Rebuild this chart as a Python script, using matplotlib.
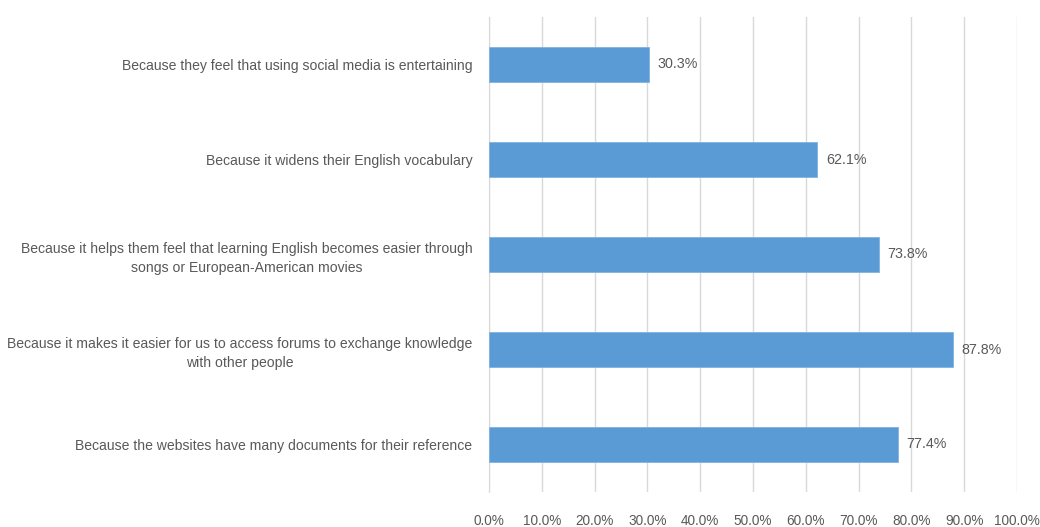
import matplotlib.pyplot as plt
from matplotlib.ticker import FuncFormatter

# data, top to bottom
labels = [
    "Because they feel that using social media is entertaining",
    "Because it widens their English vocabulary",
    "Because it helps them feel that learning English becomes easier through\nsongs or European-American movies",
    "Because it makes it easier for us to access forums to exchange knowledge\nwith other people",
    "Because the websites have many documents for their reference",
]
values = [30.3, 62.1, 73.8, 87.8, 77.4]
xticks = [0, 10, 20, 30, 40, 50, 60, 70, 80, 90, 100]

plt.rcParams['font.family'] = ['Liberation Sans', 'DejaVu Sans']
grey = "#595959"

fig = plt.figure(figsize=(10.4, 5.27), dpi=100)
ax = fig.add_axes([489/1040, 1-492/527, 528/1040, 475/527])

ypos = list(range(len(values)))
ax.barh(ypos, values, height=0.36, color="#5B9BD5", edgecolor="#7FB3E3", linewidth=0.6, zorder=3)
for y, v in zip(ypos, values):
    ax.text(v + 1.7, y, f"{v:.1f}%", va="center", ha="left", fontsize=10.3, color=grey)

ax.set_ylim(len(values) - 0.5, -0.5)
ax.set_xlim(0, 100)
ax.set_yticks(ypos)
ax.set_yticklabels(labels, fontsize=10.1, color=grey, multialignment="center", linespacing=1.45)
ax.set_xticks(xticks)
ax.xaxis.set_major_formatter(FuncFormatter(lambda x, p: f"{x:.1f}%"))
ax.tick_params(axis="x", length=0, labelsize=9.8, labelcolor=grey, pad=16)
ax.tick_params(axis="y", length=0, pad=12)
ax.grid(axis="x", color="#D9D9D9", linewidth=1, zorder=0)
for s in ["top", "right", "bottom"]:
    ax.spines[s].set_visible(False)
ax.spines["left"].set_color("#D9D9D9")

fig.savefig("out.png", dpi=100)
